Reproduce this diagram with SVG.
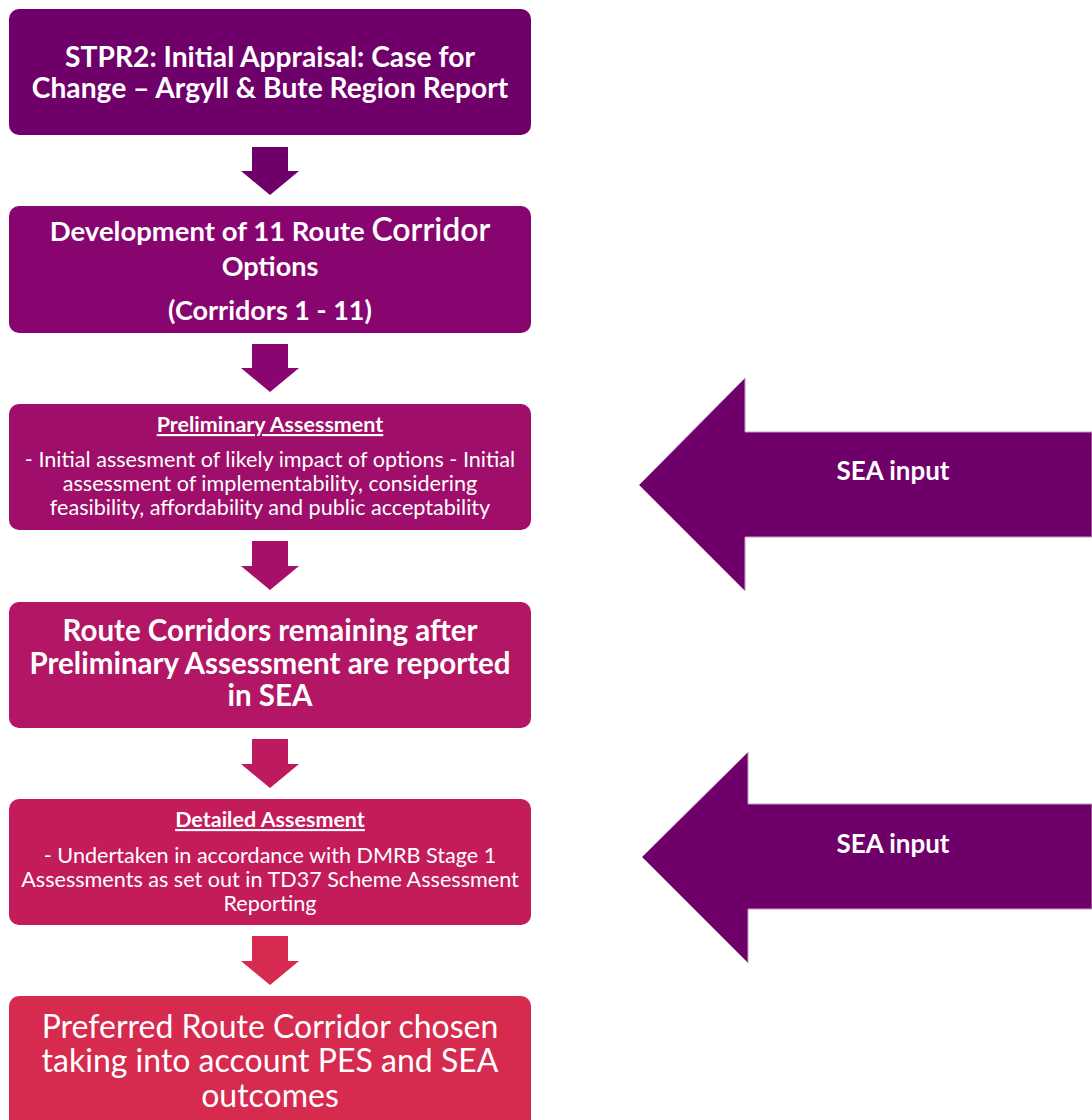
<svg xmlns="http://www.w3.org/2000/svg" width="1092" height="1120" viewBox="0 0 1092 1120">
<style>
text{font-family:Lato,"Liberation Sans",sans-serif;fill:#ffffff;text-anchor:middle}
.b{font-weight:bold}
.t1{font-size:28.2px}
.t4{font-size:29.5px}
.h{font-size:21.5px;font-weight:bold;text-decoration:underline}
.body{font-size:21.6px}
.big{font-size:32px}
.sea{font-size:26px;font-weight:bold}
</style>
<rect width="1092" height="1120" fill="#ffffff"/>
<g id="connectors">
<polygon id="a1" points="252,147 288,147 288,171 299,171 270,195 241,171 252,171" fill="#6F006A"/>
<polygon id="a2" points="252,344 288,344 288,368 299,368 270,392 241,368 252,368" fill="#8A056F"/>
<polygon id="a3" points="252,541 288,541 288,566 299,566 270,590 241,566 252,566" fill="#A80F69"/>
<polygon id="a4" points="252,739 288,739 288,764 299,764 270,788 241,764 252,764" fill="#BD1A60"/>
<polygon id="a5" points="252,936 288,936 288,961 299,961 270,985 241,961 252,961" fill="#D62A50"/>
</g>
<g id="n1">
<rect x="9" y="9" width="522" height="126" rx="10" fill="#6F006A"/>
<text class="b t1" x="270" y="67">STPR2: Initial Appraisal: Case for</text>
<text class="b t1" x="270" y="98">Change – Argyll &amp; Bute Region Report</text>
</g>
<g id="n2">
<rect x="9" y="206" width="522" height="127" rx="10" fill="#88056F"/>
<text class="b" x="270" y="241" font-size="27.5">Development of 11 Route <tspan font-size="32" font-weight="600">Corridor</tspan></text>
<text class="b" x="270" y="276" font-size="27">Options</text>
<text class="b" x="270" y="320" font-size="27">(Corridors 1 - 11)</text>
</g>
<g id="n3">
<rect x="9" y="404" width="522" height="126" rx="10" fill="#9E0E6A"/>
<text class="h" x="270" y="432"> Preliminary Assessment</text>
<text class="body" x="270" y="467">- Initial assesment of likely impact of options - Initial</text>
<text class="body" x="270" y="491">assessment of implementability, considering</text>
<text class="body" x="270" y="515">feasibility, affordability and public acceptability</text>
</g>
<g id="n4">
<rect x="9" y="602" width="522" height="126" rx="10" fill="#B21664"/>
<text class="b t4" x="270" y="641">Route Corridors remaining after</text>
<text class="b t4" x="270" y="674">Preliminary Assessment are reported</text>
<text class="b t4" x="270" y="706">in SEA</text>
</g>
<g id="n5">
<rect x="9" y="799" width="522" height="126" rx="10" fill="#C41B5B"/>
<text class="h" x="270" y="827">Detailed Assesment</text>
<text class="body" x="270" y="863">- Undertaken in accordance with DMRB Stage 1</text>
<text class="body" x="270" y="887">Assessments as set out in TD37 Scheme Assessment</text>
<text class="body" x="270" y="911">Reporting</text>
</g>
<g id="n6">
<rect x="9" y="996" width="522" height="134" rx="10" fill="#D72A4F"/>
<text class="big" x="270" y="1038">Preferred Route Corridor chosen</text>
<text class="big" x="270" y="1072">taking into account PES and SEA</text>
<text class="big" x="270" y="1107">outcomes</text>
</g>
<g id="sea1">
<polygon points="639,485 745,378 745,432 1092,432 1092,537 745,537 745,591" fill="#6F006A" stroke="#C89AC6" stroke-width="1"/>
<text class="sea" x="893" y="480">SEA input</text>
</g>
<g id="sea2">
<polygon points="642,857 748,752 748,804 1092,804 1092,909 748,909 748,963" fill="#6F006A" stroke="#C89AC6" stroke-width="1"/>
<text class="sea" x="893" y="853">SEA input</text>
</g>
</svg>
